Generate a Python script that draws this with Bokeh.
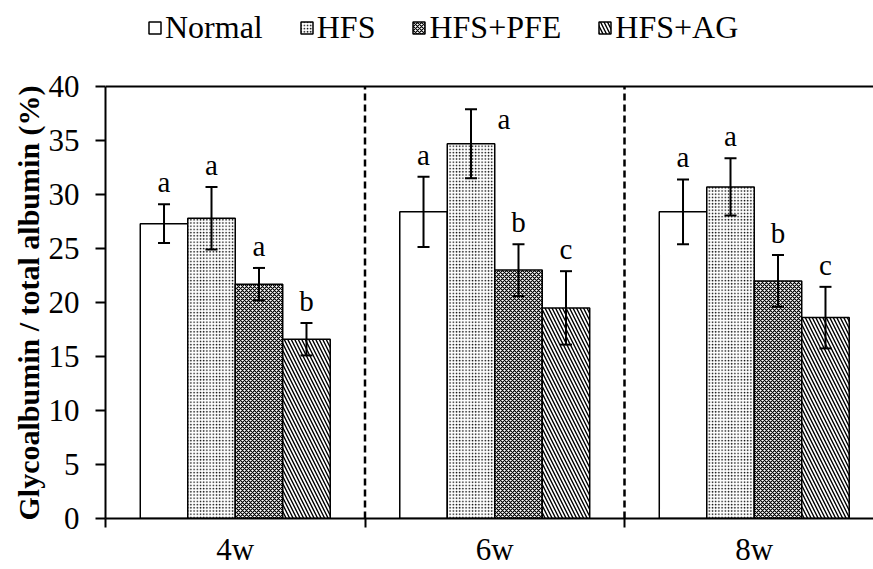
from bokeh.plotting import figure
from bokeh.models import (Range1d, FixedTicker, ColumnDataSource, Whisker, TeeHead,
                          Span, Legend, LegendItem, Title)
from bokeh.core.properties import value
from bokeh.embed import file_html
from bokeh.resources import INLINE

# ---------------- data ----------------
weeks = ["4w", "6w", "8w"]
groups = ["Normal", "HFS", "HFS+PFE", "HFS+AG"]

normal_mean = [27.3, 28.4, 28.4]
normal_sd = [1.8, 3.25, 3.0]
hfs_mean = [27.8, 34.7, 30.7]
hfs_sd = [2.9, 3.2, 2.65]
pfe_mean = [21.7, 23.0, 22.0]
pfe_sd = [1.5, 2.4, 2.4]
ag_mean = [16.6, 19.5, 18.6]
ag_sd = [1.5, 3.4, 2.85]

normal_sig = ["a", "a", "a"]
hfs_sig = ["a", "a", "a"]
pfe_sig = ["a", "b", "b"]
ag_sig = ["b", "c", "c"]

y_ticks = [0, 5, 10, 15, 20, 25, 30, 35, 40]
y_title = "Glycoalbumin / total albumin (%)"

# ---------------- style ----------------
FONT = "Liberation Serif"
BAR_W = 0.183
PX_PER_CAT = 259.5
PX_PER_UNIT = 10.8
W, H = 873, 569
LEFT, BOTTOM = 105, 51
FRAME_W = W - LEFT
FRAME_H = H - BOTTOM
Y_MIN, Y_MAX = y_ticks[0], y_ticks[-1]

styles = [
    dict(),
    dict(hatch_pattern="dot", hatch_scale=3.2, hatch_weight=2),
    dict(hatch_pattern="diagonal_cross", hatch_scale=4, hatch_weight=1.15),
    dict(hatch_pattern="left_diagonal_line", hatch_scale=7, hatch_weight=1.4),
]

# letter placed beside the error bar instead of above it
letter_shift = {("6w", "HFS"): (33, 10)}
LETTER_DY = -22

# the frame reaches the top of the canvas so the legend (drawn inside it) is visible;
# the value axis itself is bounded to 0..40
p = figure(width=W, height=H, output_backend="svg", toolbar_location=None,
           x_range=Range1d(0, FRAME_W / PX_PER_CAT),
           y_range=Range1d(Y_MIN, Y_MIN + FRAME_H / PX_PER_UNIT),
           min_border_left=LEFT, min_border_right=0, min_border_top=0, min_border_bottom=BOTTOM)
p.xgrid.visible = False
p.ygrid.visible = False
p.outline_line_color = None
p.background_fill_color = "white"
p.border_fill_color = "white"

# x axis
xa = p.xaxis[0]
xa.ticker = FixedTicker(ticks=[i + 0.5 for i in range(len(weeks))],
                        minor_ticks=list(range(len(weeks) + 1)))
xa.major_label_overrides = {i + 0.5: w for i, w in enumerate(weeks)}
xa.major_tick_out = 0
xa.major_tick_in = 0
xa.minor_tick_out = 9
xa.minor_tick_in = 0
xa.minor_tick_line_width = 2
xa.minor_tick_line_color = "black"
xa.axis_line_width = 2
xa.axis_line_color = "black"
xa.major_label_standoff = 4
xa.major_label_text_font = FONT
xa.major_label_text_font_size = "31px"
xa.major_label_text_color = "black"

# y axis
ya = p.yaxis[0]
ya.bounds = (Y_MIN, Y_MAX)
ya.ticker = FixedTicker(ticks=y_ticks)
ya.major_tick_out = 10
ya.major_tick_in = 0
ya.minor_tick_out = 0
ya.minor_tick_in = 0
ya.major_tick_line_width = 2
ya.major_tick_line_color = "black"
ya.axis_line_width = 2
ya.axis_line_color = "black"
ya.major_label_standoff = 16
ya.major_label_text_font = FONT
ya.major_label_text_font_size = "31px"
ya.major_label_text_color = "black"

# y-axis title, starting at the bottom of the axis (reads upward)
p.add_layout(Title(text=y_title, align="left", offset=-2, standoff=1,
                   text_font=FONT, text_font_size="30px", text_font_style="bold",
                   text_color="black"), "left")

# top line and dashed separators
p.add_layout(Span(location=Y_MAX, dimension="width", line_color="black", line_width=2))
bounds_x = list(range(1, len(weeks)))
p.segment(x0=bounds_x, y0=[Y_MIN] * len(bounds_x), x1=bounds_x, y1=[Y_MAX] * len(bounds_x),
          line_color="black", line_width=2.5, line_dash="7 4")

series = [
    (groups[0], normal_mean, normal_sd, normal_sig),
    (groups[1], hfs_mean, hfs_sd, hfs_sig),
    (groups[2], pfe_mean, pfe_sd, pfe_sig),
    (groups[3], ag_mean, ag_sd, ag_sig),
]

items = []
for j, (name, mean, sd, sig) in enumerate(series):
    xs = [i + 0.5 + (j - 1.5) * BAR_W for i in range(len(weeks))]
    dx = [letter_shift.get((w, name), (0, LETTER_DY))[0] for w in weeks]
    dy = [letter_shift.get((w, name), (0, LETTER_DY))[1] for w in weeks]
    src = ColumnDataSource(dict(
        x=xs, top=mean,
        upper=[m + s for m, s in zip(mean, sd)],
        lower=[m - s for m, s in zip(mean, sd)],
        sig=sig, dx=dx, dy=dy))
    r = p.vbar(x="x", top="top", bottom=0, width=BAR_W, source=src,
               fill_color="white", line_color="black", line_width=1.5,
               hatch_color="black", **styles[j])
    items.append(LegendItem(label=name, renderers=[r]))
    w = Whisker(base="x", upper="upper", lower="lower", source=src,
                line_color="black", line_width=2,
                upper_head=TeeHead(size=12, line_color="black", line_width=2),
                lower_head=TeeHead(size=12, line_color="black", line_width=2))
    w.level = "overlay"
    p.add_layout(w)
    p.text(x="x", y="upper", text="sig", source=src, x_offset="dx", y_offset="dy",
           text_font=value(FONT), text_font_size="29px", text_color="black",
           text_align="center", text_baseline="alphabetic")

legend = Legend(items=items, location=(42, 472), orientation="horizontal")
legend.label_text_font = FONT
legend.label_text_font_size = "32px"
legend.label_text_color = "black"
legend.glyph_width = 15
legend.glyph_height = 15
legend.spacing = 36
legend.label_standoff = 3
legend.padding = 0
legend.margin = 0
legend.border_line_color = None
legend.background_fill_alpha = 0
p.add_layout(legend, "center")

open("out.html", "w").write(file_html(p, INLINE))
